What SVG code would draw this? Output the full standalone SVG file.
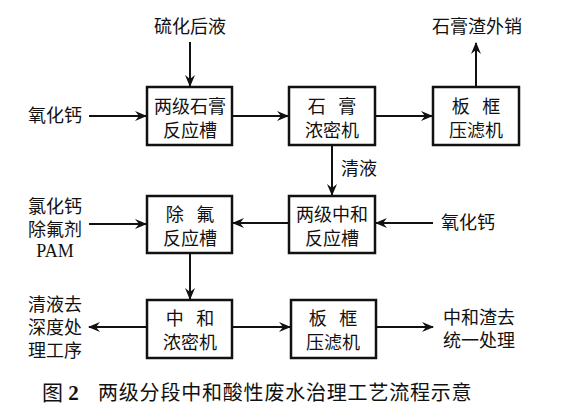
<svg xmlns="http://www.w3.org/2000/svg" width="563" height="418" viewBox="0 0 563 418">
<style>
text{font-family:"Liberation Serif","Noto Sans CJK SC",serif;font-size:18px;fill:#111;text-anchor:middle}
.box{fill:#fff;stroke:#111;stroke-width:2.5}
.ln{stroke:#111;stroke-width:2;fill:none;marker-end:url(#ah)}
.cap{font-size:20px}
.sp{word-spacing:8px}
</style>
<defs>
<marker id="ah" viewBox="0 0 12 10" refX="11" refY="5" markerWidth="12" markerHeight="10" markerUnits="userSpaceOnUse" orient="auto">
<path d="M0,0 L12,5 L0,10 L4,5 Z" fill="#111"/>
</marker>
</defs>
<rect width="563" height="418" fill="#fff"/>
<g id="connectors">
<line class="ln" x1="190" y1="42" x2="190" y2="86"/>
<line class="ln" x1="89" y1="116" x2="146" y2="116"/>
<line class="ln" x1="232" y1="116" x2="288" y2="116"/>
<line class="ln" x1="375" y1="116" x2="432" y2="116"/>
<line class="ln" x1="476" y1="87" x2="476" y2="43"/>
<line class="ln" x1="332" y1="145" x2="332" y2="195"/>
<line class="ln" x1="433" y1="223" x2="376" y2="223"/>
<line class="ln" x1="289" y1="223" x2="233" y2="223"/>
<line class="ln" x1="89" y1="224" x2="146" y2="224"/>
<line class="ln" x1="190" y1="253" x2="190" y2="299"/>
<line class="ln" x1="147" y1="327" x2="89" y2="327"/>
<line class="ln" x1="232" y1="327" x2="290" y2="327"/>
<line class="ln" x1="376" y1="327" x2="433" y2="327"/>
</g>
<g id="labels">
<text x="190" y="33">硫化后液</text>
<text x="55" y="122">氧化钙</text>
<text x="477" y="33">石膏渣外销</text>
<text x="359" y="175">清液</text>
<text x="468" y="229">氧化钙</text>
<text x="55" y="213">氯化钙</text>
<text x="55" y="236">除氟剂</text>
<text x="55" y="257">PAM</text>
<text x="55" y="311">清液去</text>
<text x="55" y="334">深度处</text>
<text x="55" y="357">理工序</text>
<text x="479" y="324">中和渣去</text>
<text x="479" y="347">统一处理</text>
</g>
<g id="n1"><rect class="box" x="147" y="87" width="85" height="58"/><text x="190" y="113">两级石膏</text><text x="190" y="137">反应槽</text></g>
<g id="n2"><rect class="box" x="289" y="87" width="86" height="58"/><text class="sp" x="332" y="113">石 膏</text><text x="332" y="137">浓密机</text></g>
<g id="n3"><rect class="box" x="433" y="87" width="86" height="58"/><text class="sp" x="476" y="113">板 框</text><text x="476" y="137">压滤机</text></g>
<g id="n4"><rect class="box" x="147" y="196" width="85" height="57"/><text class="sp" x="190" y="221">除 氟</text><text x="190" y="245">反应槽</text></g>
<g id="n5"><rect class="box" x="289" y="196" width="86" height="57"/><text x="332" y="221">两级中和</text><text x="332" y="245">反应槽</text></g>
<g id="n6"><rect class="box" x="147" y="300" width="85" height="58"/><text class="sp" x="190" y="325">中 和</text><text x="190" y="349">浓密机</text></g>
<g id="n7"><rect class="box" x="291" y="300" width="85" height="58"/><text class="sp" x="333" y="325">板 框</text><text x="333" y="349">压滤机</text></g>
<g id="caption">
<text class="cap" x="42" y="400" style="text-anchor:start;font-size:21px">图 <tspan font-weight="bold">2</tspan></text>
<text class="cap" x="98" y="400" style="text-anchor:start;letter-spacing:0.8px">两级分段中和酸性废水治理工艺流程示意</text>
</g>
</svg>
